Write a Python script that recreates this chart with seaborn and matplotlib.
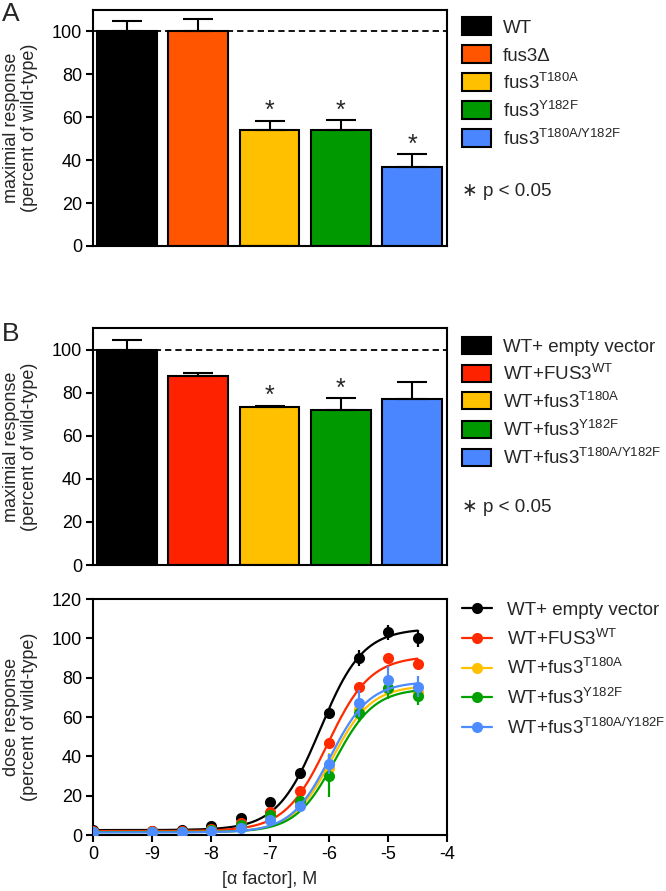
import numpy as np
import pandas as pd
import matplotlib
matplotlib.use("Agg")
import matplotlib.pyplot as plt
import matplotlib.patches as mpatches
from matplotlib.lines import Line2D
import seaborn as sns

# %% data
# panel A: maximal response of the mutant strains
a_labels = ["WT", "fus3\u0394", r"fus3$^{\mathrm{T180A}}$", r"fus3$^{\mathrm{Y182F}}$",
            r"fus3$^{\mathrm{T180A/Y182F}}$"]
a_values = [100, 100, 54, 54, 37]
a_errors = [4.8, 5.8, 4.3, 4.6, 5.7]
a_colors = ["#000000", "#FF5500", "#FFC000", "#009A00", "#4A86FF"]
a_signif = [False, False, True, True, True]

# panel B: maximal response, WT + plasmids
b_labels = ["WT+ empty vector", r"WT+FUS3$^{\mathrm{WT}}$", r"WT+fus3$^{\mathrm{T180A}}$",
            r"WT+fus3$^{\mathrm{Y182F}}$", r"WT+fus3$^{\mathrm{T180A/Y182F}}$"]
b_values = [100, 87.6, 73.2, 71.8, 77.1]
b_errors = [4.2, 1.5, 0.8, 5.6, 7.7]
b_colors = ["#000000", "#FF2200", "#FFC000", "#009A00", "#4A86FF"]
b_signif = [False, False, True, True, False]

# panel C: dose response (x = log [alpha factor], 0 drawn at -10)
log_dose = [-10, -9, -8.5, -8, -7.5, -7, -6.5, -6, -5.5, -5, -4.5]
resp_empty = [2.5, 2.2, 2.6, 4.7, 8.8, 17, 31.5, 62, 90, 103, 100]
resp_fus3wt = [2.0, 1.8, 2.0, 3.0, 6.0, 11.5, 22.5, 47, 75.5, 90, 87]
resp_t180a = [1.5, 1.5, 1.5, 2.5, 4.5, 9.5, 16.5, 34, 64, 74, 72.5]
resp_y182f = [1.5, 1.5, 1.5, 2.5, 5.0, 10, 17.5, 30, 62, 74.5, 70.5]
resp_double = [1.3, 1.3, 1.3, 1.8, 3.5, 7.6, 14.7, 36, 67, 79, 75.5]
err_empty = [0.5, 0.5, 0.5, 0.5, 0.8, 1.0, 1.5, 1.5, 4.0, 4.0, 4.2]
err_fus3wt = [0.5, 0.5, 0.5, 0.5, 0.5, 1.0, 1.0, 1.5, 1.5, 1.5, 1.5]
err_t180a = [0.5, 0.5, 0.5, 0.5, 0.5, 1.0, 1.0, 7.5, 3.0, 3.0, 3.0]
err_y182f = [0.5, 0.5, 0.5, 0.5, 0.5, 1.0, 1.0, 10.5, 4.5, 5.5, 4.5]
err_double = [0.5, 0.5, 0.5, 0.5, 0.5, 1.0, 1.0, 5.0, 6.8, 7.0, 5.5]
c_labels = b_labels
c_colors = ["#000000", "#FF2A00", "#FFC000", "#00A000", "#4D8CFF"]
# fitted sigmoid parameters
fit_bottom = [2.5, 2.0, 1.5, 1.5, 1.3]
fit_top = [105, 91, 76, 74.5, 78]
fit_logec50 = [-6.15, -6.02, -5.95, -5.9, -5.98]
fit_hill = [1.2, 1.2, 1.3, 1.3, 1.3]
dose_ticks = [-10, -9, -8, -7, -6, -5, -4]
dose_ticklabels = ["0", "-9", "-8", "-7", "-6", "-5", "-4"]

# %% style
sns.set_theme(style="ticks")
plt.rcParams["font.family"] = ["Liberation Sans", "DejaVu Sans"]
plt.rcParams["mathtext.fontset"] = "custom"
plt.rcParams["mathtext.rm"] = "Liberation Sans"
plt.rcParams["mathtext.it"] = "Liberation Sans:italic"
plt.rcParams["mathtext.bf"] = "Liberation Sans:bold"
plt.rcParams["axes.linewidth"] = 1.5
plt.rcParams["axes.edgecolor"] = "black"

W, H = 666, 891
fig = plt.figure(figsize=(W / 100, H / 100), dpi=100)


def box(left, top, right, bottom):
    return [left / W, (H - bottom) / H, (right - left) / W, (bottom - top) / H]


def fx(px):
    return px / W


def fy(py):
    return (H - py) / H


ax_a = fig.add_axes(box(93, 10, 447, 246))
ax_b = fig.add_axes(box(93, 328, 447, 565))
ax_c = fig.add_axes(box(93, 599, 447, 835))

TICK = 13
LAB = 13
LEG = 13.5


def style_axes(ax, ylabel):
    for s in ax.spines.values():
        s.set_visible(True)
        s.set_linewidth(1.5)
        s.set_color("black")
    ax.tick_params(axis="both", direction="out", length=5, width=1.5,
                   labelsize=TICK, colors="black", pad=3)
    ax.set_ylabel(ylabel, fontsize=LAB, linespacing=1.1)
    ax.yaxis.set_label_coords(-0.155, 0.5)


def legend_rows(labels, colors, row0, step, kind="patch"):
    # legend keys drawn by hand so the row spacing matches the original
    for i, (lab, c) in enumerate(zip(labels, colors)):
        yc = row0 + i * step
        if kind == "patch":
            fig.add_artist(mpatches.Rectangle((fx(462), fy(yc + 8.5)), 29 / W, 17 / H,
                                              transform=fig.transFigure, facecolor=c,
                                              edgecolor="black", linewidth=1.5))
            tx = 503
        else:
            fig.add_artist(Line2D([fx(462), fx(492)], [fy(yc), fy(yc)], color=c, lw=1.6,
                                  transform=fig.transFigure))
            fig.add_artist(Line2D([fx(477)], [fy(yc)], color=c, marker="o", ms=8, mew=0,
                                  transform=fig.transFigure))
            tx = 507
        fig.text(fx(tx), fy(yc + 6.8), lab, fontsize=LEG, ha="left", va="baseline")


def bar_panel(ax, labels, values, errors, colors, signif):
    df = pd.DataFrame({"strain": labels, "response": values})
    sns.barplot(data=df, x="strain", y="response", hue="strain", palette=colors,
                saturation=1, width=0.84, edgecolor="black", linewidth=1.5,
                errorbar=None, legend=False, ax=ax, zorder=2)
    ax.errorbar(range(len(values)), values, yerr=[np.zeros(len(errors)), errors],
                fmt="none", ecolor="black", elinewidth=1.5, capsize=11, capthick=1.5, zorder=3)
    ax.axhline(100, color="black", lw=1.3, ls=(0, (3.5, 2.2)), zorder=0.5)
    for i, (v, e, s) in enumerate(zip(values, errors, signif)):
        if s:
            ax.text(i, v + e + 1.2, "*", ha="center", va="baseline", fontsize=18)
    ax.set_xlim(-0.477, 4.49)
    ax.set_ylim(0, 110)
    ax.set_yticks([0, 20, 40, 60, 80, 100])
    ax.set_xticks([])
    ax.set_xlabel("")
    style_axes(ax, "maximial response\n(percent of wild-type)")


bar_panel(ax_a, a_labels, a_values, a_errors, a_colors, a_signif)
bar_panel(ax_b, b_labels, b_values, b_errors, b_colors, b_signif)

legend_rows(a_labels, a_colors, 26, 28)
legend_rows(b_labels, b_colors, 345, 28)
fig.text(fx(462), fy(192), "\u2217 p < 0.05", fontsize=LEG, ha="left", va="center")
fig.text(fx(462), fy(507), "\u2217 p < 0.05", fontsize=LEG, ha="left", va="center")

fig.text(fx(2), fy(14), "A", fontsize=19, ha="left", va="center")
fig.text(fx(2), fy(334), "B", fontsize=19, ha="left", va="center")

# %% dose response
series = [resp_empty, resp_fus3wt, resp_t180a, resp_y182f, resp_double]
errs = [err_empty, err_fus3wt, err_t180a, err_y182f, err_double]
curve_x = np.linspace(-10, -4.5, 300)
for k in range(5):
    curve_y = fit_bottom[k] + (fit_top[k] - fit_bottom[k]) / (
        1 + 10 ** ((fit_logec50[k] - curve_x) * fit_hill[k]))
    sns.lineplot(x=curve_x, y=curve_y, color=c_colors[k], lw=1.6, ax=ax_c, zorder=2 + k)
    ax_c.errorbar(log_dose, series[k], yerr=errs[k], fmt="o", color=c_colors[k], ms=8,
                  mew=0, elinewidth=1.6, capsize=4.5, capthick=1.6, zorder=2.5 + k)

ax_c.set_xlim(-10, -4)
ax_c.set_ylim(0, 120)
ax_c.set_xticks(dose_ticks)
ax_c.set_xticklabels(dose_ticklabels)
ax_c.set_yticks([0, 20, 40, 60, 80, 100, 120])
style_axes(ax_c, "dose response\n(percent of wild-type)")
ax_c.set_xlabel("[\u03b1 factor], M", fontsize=LAB, labelpad=6)
legend_rows(c_labels, c_colors, 608, 29.75, kind="line")

fig.savefig("out.png", dpi=100)
